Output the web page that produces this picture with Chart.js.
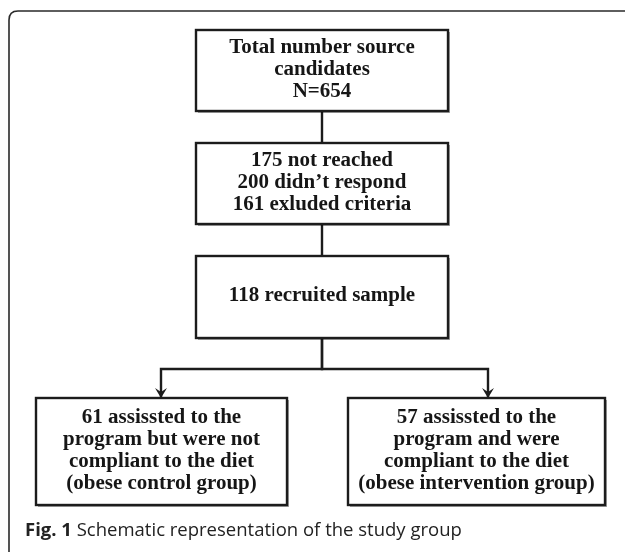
<!DOCTYPE html>
<html>
<head>
<meta charset="utf-8">
<script src="https://cdn.jsdelivr.net/npm/chart.js@4.4.1/dist/chart.umd.min.js"></script>
<style>
  html, body { margin: 0; padding: 0; background: #fff; }
  #wrap { width: 625px; height: 552px; position: relative; }
</style>
</head>
<body>
<div id="wrap"><canvas id="flow"></canvas></div>
<script>
// flowchart content
const boxLines = [
    ['Total number source', 'candidates', 'N=654'],
    ['175 not reached', '200 didn\u2019t respond', '161 exluded criteria'],
    ['118 recruited sample'],
    ['61 assissted to the', 'program but were not', 'compliant to the diet', '(obese control group)'],
    ['57 assissted to the', 'program and were', 'compliant to the diet', '(obese intervention group)']
];
const links = [[0, 1], [1, 2], [2, 3], [2, 4]];
const captionBold = 'Fig. 1';
const captionText = 'Schematic representation of the study group';

// layout in page units (x: 0..625, y: 0..552)
const boxRects = [
    [196, 30, 448, 111],
    [196, 143, 448, 224],
    [196, 256, 448, 338],
    [36, 398, 287, 505],
    [348, 398, 605, 505]
];
const branchY = 369;
const branchX = {3: 161, 4: 488};

const ink = '#1c1c1c';

// connector segments built from the layout
const segments = links.map(([a, b]) => {
    const ra = boxRects[a], rb = boxRects[b];
    const cx = (ra[0] + ra[2]) / 2;
    if (branchX[b] === undefined) {
        return [{x: cx, y: ra[3]}, {x: cx, y: rb[1]}];
    }
    return [{x: cx, y: ra[3]}, {x: cx, y: branchY}, {x: branchX[b], y: branchY}, {x: branchX[b], y: rb[1]}];
});

const flowPlugin = {
    id: 'flow',
    beforeDatasetsDraw(chart) {
        const {ctx, scales: {x, y}} = chart;
        ctx.save();
        // outer frame
        ctx.strokeStyle = '#2a2a2a';
        ctx.lineWidth = 1.6;
        const fx = x.getPixelForValue(9), fy = y.getPixelForValue(11), r = 9;
        ctx.beginPath();
        ctx.moveTo(fx, 560);
        ctx.lineTo(fx, fy + r);
        ctx.quadraticCurveTo(fx, fy, fx + r, fy);
        ctx.lineTo(640, fy);
        ctx.stroke();
        ctx.restore();
    },
    afterDatasetsDraw(chart) {
        const {ctx, scales: {x, y}} = chart;
        ctx.save();
        boxRects.forEach((rc, i) => {
            const x0 = x.getPixelForValue(rc[0]), y0 = y.getPixelForValue(rc[1]);
            const x1 = x.getPixelForValue(rc[2]), y1 = y.getPixelForValue(rc[3]);
            // soft shadow
            ctx.fillStyle = 'rgba(0,0,0,0.35)';
            ctx.fillRect(x0 + 2, y0 + 2, x1 - x0, y1 - y0);
            ctx.fillStyle = '#fff';
            ctx.fillRect(x0, y0, x1 - x0, y1 - y0);
            ctx.strokeStyle = ink;
            ctx.lineWidth = 2.4;
            ctx.strokeRect(x0, y0, x1 - x0, y1 - y0);

            const lines = boxLines[i];
            const lh = 22;
            const cy = (y0 + y1) / 2 - (lines.length - 1) * lh / 2 - 1;
            ctx.fillStyle = '#161616';
            ctx.font = 'bold 20px "Liberation Serif", "Times New Roman", serif';
            ctx.textAlign = 'center';
            ctx.textBaseline = 'middle';
            lines.forEach((t, j) => {
                ctx.save();
                ctx.translate((x0 + x1) / 2, cy + j * lh);
                ctx.scale(1.05, 1);
                ctx.fillText(t, 0, 0);
                ctx.restore();
            });
        });

        // arrow heads on branch ends
        ctx.fillStyle = ink;
        segments.forEach(seg => {
            if (seg.length < 3) return;
            const end = seg[seg.length - 1];
            const ax = x.getPixelForValue(end.x), ay = y.getPixelForValue(end.y);
            ctx.beginPath();
            ctx.moveTo(ax, ay);
            ctx.lineTo(ax - 6, ay - 10);
            ctx.lineTo(ax, ay - 6);
            ctx.lineTo(ax + 6, ay - 10);
            ctx.closePath();
            ctx.fill();
        });

        // caption
        ctx.textAlign = 'left';
        ctx.textBaseline = 'middle';
        ctx.fillStyle = '#222';
        const capX = x.getPixelForValue(25), capY = y.getPixelForValue(531);
        ctx.font = 'bold 18.5px "Open Sans", sans-serif';
        ctx.fillText(captionBold, capX, capY);
        const w = ctx.measureText(captionBold + ' ').width;
        ctx.font = '18.5px "Open Sans", sans-serif';
        ctx.fillText(captionText, capX + w, capY);
        ctx.restore();
    }
};

new Chart(document.getElementById('flow'), {
    type: 'scatter',
    data: {
        datasets: segments.map(seg => ({
            data: seg,
            showLine: true,
            borderColor: ink,
            borderWidth: 2.4,
            pointRadius: 0,
            fill: false
        }))
    },
    options: {
        responsive: true,
        maintainAspectRatio: false,
        animation: false,
        layout: { padding: 0 },
        plugins: { legend: { display: false }, tooltip: { enabled: false } },
        scales: {
            x: { type: 'linear', min: 0, max: 625, display: false },
            y: { type: 'linear', min: 0, max: 552, reverse: true, display: false }
        }
    },
    plugins: [flowPlugin]
});
</script>
</body>
</html>
